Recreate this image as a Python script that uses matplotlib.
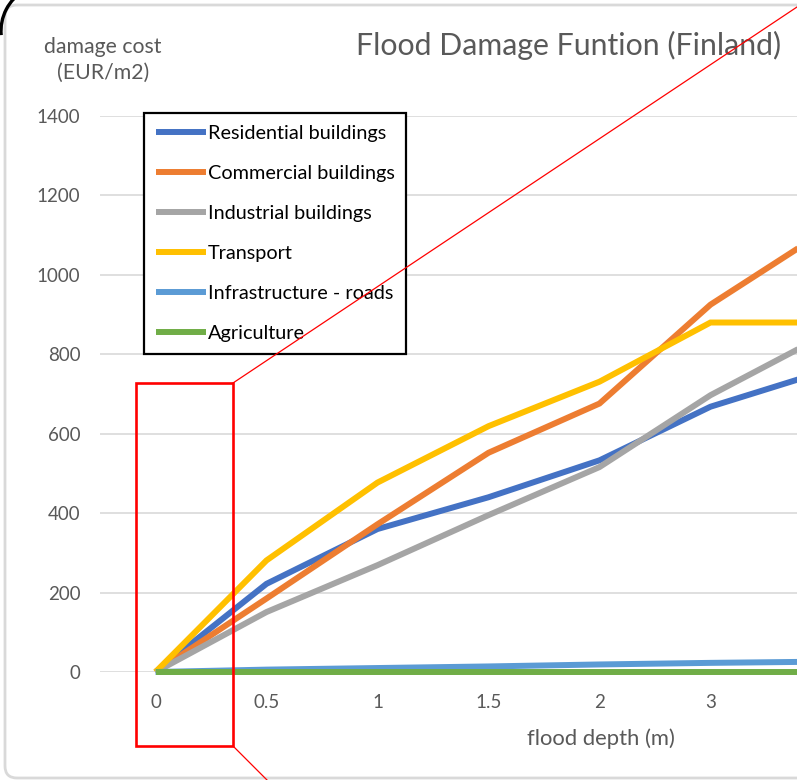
import matplotlib.pyplot as plt
from matplotlib.patches import Arc, FancyBboxPatch, Rectangle
import numpy as np

# flood depth categories (the last one is cut off at the right edge)
depth_labels = ['0', '0.5', '1', '1.5', '2', '3', '4']

residential = [0, 222, 360, 440, 533, 668, 755]
commercial = [0, 185, 372, 552, 676, 925, 1105]
industrial = [0, 151, 269, 395, 516, 697, 844]
transport = [0, 281, 477, 619, 731, 880, 880]
roads = [0, 6, 10, 14, 19, 23, 26]
agriculture = [0, 0, 0, 0, 0, 0, 0]

series = [
    ('Residential buildings', residential, '#4472C4'),
    ('Commercial buildings', commercial, '#ED7D31'),
    ('Industrial buildings', industrial, '#A5A5A5'),
    ('Transport', transport, '#FFC000'),
    ('Infrastructure - roads', roads, '#5B9BD5'),
    ('Agriculture', agriculture, '#70AD47'),
]

plt.rcParams['font.family'] = ['Lato', 'DejaVu Sans']
W, H = 797, 780
fig = plt.figure(figsize=(W / 100, H / 100), dpi=100)

# plot area: left at 100 px, bottom at 672 px, top at 116 px, runs past the right edge
ax = fig.add_axes([100 / W, (H - 672) / H, 777 / W, 556 / H])
x = np.arange(len(depth_labels))
for name, vals, col in series:
    ax.plot(x, vals, color=col, lw=4.3, label=name, clip_on=False,
            solid_capstyle='butt', solid_joinstyle='miter')

ax.set_xlim(-0.5, len(depth_labels) - 0.5)
ax.set_ylim(0, 1400)
ax.set_yticks(range(0, 1401, 200))
ax.set_xticks(x)
ax.set_xticklabels(depth_labels)
ax.grid(axis='y', color='#d9d9d9', lw=1.2)
ax.set_axisbelow(True)
for s in ax.spines.values():
    s.set_visible(False)
ax.tick_params(length=0, labelsize=13.5, colors='#595959')
ax.tick_params(axis='y', pad=14)
ax.tick_params(axis='x', pad=16)
# the last category sits past the cropped right edge
ax.get_xticklabels()[-1].set_visible(False)

leg = ax.legend(loc='upper left', bbox_to_anchor=(144 / W, 1 - 113 / H),
                bbox_transform=fig.transFigure, fontsize=14.3, frameon=True,
                fancybox=False, framealpha=1, edgecolor='black',
                handlelength=2.5, handletextpad=0.1, labelspacing=1.16,
                borderpad=0.6, borderaxespad=0)
leg.get_frame().set_linewidth(1.6)
for t in leg.get_texts():
    t.set_color('black')

fig.text(569 / W, 1 - 45 / H, 'Flood Damage Funtion (Finland)', ha='center',
         va='center', fontsize=21.8, color='#595959')
fig.text(103 / W, 1 - 60 / H, 'damage cost\n(EUR/m2)', ha='center', va='center',
         fontsize=15.3, color='#595959', linespacing=1.38)
fig.text(601 / W, 1 - 739 / H, 'flood depth (m)', ha='center', va='center',
         fontsize=15.8, color='#595959')

# overlay in pixel coords for the screenshot decorations
ov = fig.add_axes([0, 0, 1, 1], zorder=10)
ov.set_xlim(0, W)
ov.set_ylim(H, 0)
ov.axis('off')
ov.patch.set_alpha(0)
ov.add_patch(FancyBboxPatch((5, 5), 900, 773, boxstyle='round,pad=0,rounding_size=12',
                            fill=False, ec='#d9d9d9', lw=2))
ov.add_patch(Arc((48, 31), 94, 94, theta1=175, theta2=240, color='black', lw=2.4))
ov.add_patch(Rectangle((136, 383), 97, 363, fill=False, ec='#ff0000', lw=1.9))
ov.plot([233, 797], [383, 7], color='#ff0000', lw=0.9)
ov.plot([233, 270], [746, 783], color='#ff0000', lw=0.9)

fig.savefig('out.png', dpi=100)
